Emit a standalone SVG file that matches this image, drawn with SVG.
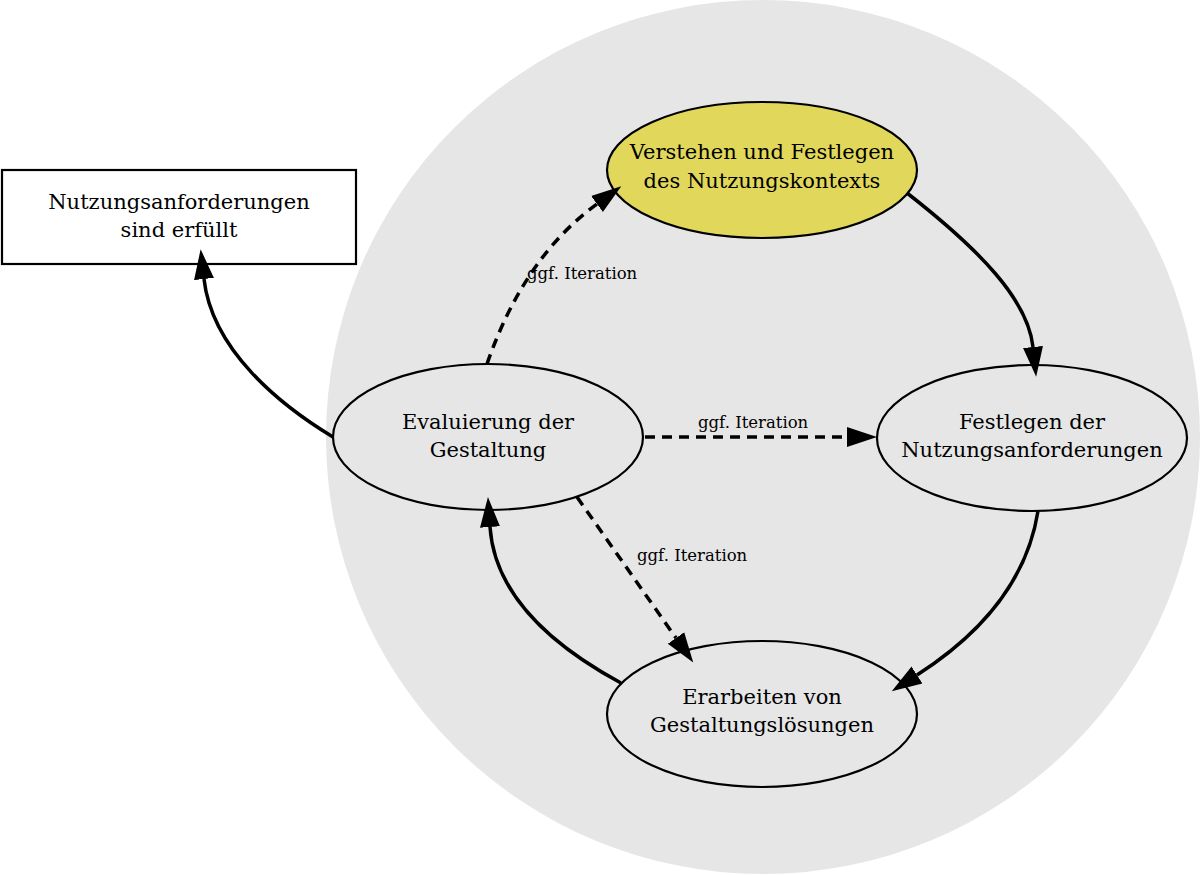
<svg xmlns="http://www.w3.org/2000/svg" width="1200" height="875" viewBox="0 0 1200 875">
<defs>
<marker id="arr" markerUnits="userSpaceOnUse" markerWidth="32" markerHeight="22" refX="0" refY="10" orient="auto" viewBox="0 0 32 20">
<path d="M0,0 L30,10 L0,20 z" fill="#000"/>
</marker>
<style>
.node{fill:#e6e6e6;stroke:#000;stroke-width:2.2}
.t{font-family:"DejaVu Serif","Liberation Serif",serif;font-size:21px;fill:#000;text-anchor:middle}
.lbl{font-family:"DejaVu Serif","Liberation Serif",serif;font-size:16.5px;fill:#000}
.e{fill:none;stroke:#000;stroke-width:3.5;marker-end:url(#arr)}
.d{stroke-dasharray:10,7}
</style>
</defs>
<rect width="1200" height="875" fill="#fff"/>
<ellipse id="background" cx="763" cy="437" rx="437" ry="437" fill="#e6e6e6"/>
<g id="n-kontext">
<ellipse cx="762" cy="170" rx="155" ry="68" fill="#e1d75a" stroke="#000" stroke-width="2.2"/>
<text class="t" x="762" y="159">Verstehen und Festlegen</text>
<text class="t" x="762" y="188">des Nutzungskontexts</text>
</g>
<g id="n-anforderungen">
<ellipse class="node" cx="1032" cy="438" rx="155" ry="73"/>
<text class="t" x="1032" y="429">Festlegen der</text>
<text class="t" x="1032" y="457">Nutzungsanforderungen</text>
</g>
<g id="n-loesungen">
<ellipse class="node" cx="762" cy="714" rx="155" ry="73"/>
<text class="t" x="762" y="704">Erarbeiten von</text>
<text class="t" x="762" y="732">Gestaltungslösungen</text>
</g>
<g id="n-evaluierung">
<ellipse class="node" cx="488" cy="437" rx="155" ry="73"/>
<text class="t" x="488" y="429">Evaluierung der</text>
<text class="t" x="488" y="457">Gestaltung</text>
</g>
<g id="n-erfuellt">
<rect x="2" y="170" width="354" height="94" fill="#fff" stroke="#000" stroke-width="2.2"/>
<text class="t" x="179" y="209">Nutzungsanforderungen</text>
<text class="t" x="179" y="237">sind erfüllt</text>
</g>
<g id="connectors">
<path class="e" d="M907,193 C980,250 1028,300 1033,347"/>
<path class="e" d="M1038,511 Q1023,607 917,675"/>
<path class="e" d="M621,683 C560,650 495,600 490,527"/>
<path class="e" d="M333,437 C280,405 212,350 204,279"/>
<path class="e d" d="M487,364 Q524,257 597,204"/>
<path class="e d" d="M645,437 L847,437"/>
<path class="e d" d="M577,497 L676,638"/>
<text class="lbl" x="527" y="279">ggf. Iteration</text>
<text class="lbl" x="698" y="428">ggf. Iteration</text>
<text class="lbl" x="637" y="561">ggf. Iteration</text>
</g>
</svg>
